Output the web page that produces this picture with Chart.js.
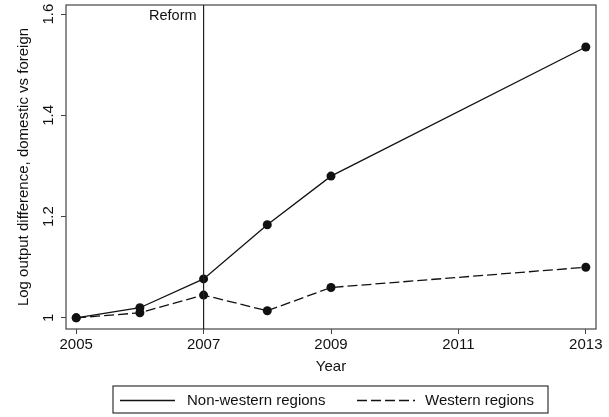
<!DOCTYPE html>
<html>
<head>
<meta charset="utf-8">
<script src="https://cdn.jsdelivr.net/npm/chart.js@4.4.1/dist/chart.umd.min.js"></script>
<style>
  html, body { margin: 0; padding: 0; background: #fff; }
  #wrap { width: 609px; height: 417px; }
</style>
</head>
<body>
<div id="wrap"><canvas id="chart" width="609" height="417"></canvas></div>
<script>
'use strict'

const years = [2005, 2006, 2007, 2008, 2009, 2013];
const nonWestern = [1.0, 1.02, 1.077, 1.184, 1.28, 1.535];
const western = [1.0, 1.01, 1.045, 1.014, 1.06, 1.10];
const xTicks = [2005, 2007, 2009, 2011, 2013];
const yTicks = [1, 1.2, 1.4, 1.6];
const reformYear = 2007;

const font = "'Liberation Sans', Arial, sans-serif";
const ink = '#111';

const toPoints = (vals) => years.map((y, i) => ({x: y, y: vals[i]}));

// extra drawing: frame, reform line, rotated y labels, legend box
const stataBits = {
    id: 'stataBits',
    afterDatasetsDraw(chart) {
        const ctx = chart.ctx;
        const a = chart.chartArea;
        const xs = chart.scales.x, ys = chart.scales.y;
        ctx.save();
        // plot frame
        ctx.strokeStyle = '#444';
        ctx.lineWidth = 1.2;
        ctx.strokeRect(a.left, a.top, a.right - a.left, a.bottom - a.top);
        // reform line
        const rx = xs.getPixelForValue(reformYear);
        ctx.strokeStyle = '#222';
        ctx.beginPath();
        ctx.moveTo(rx, a.top);
        ctx.lineTo(rx, a.bottom);
        ctx.stroke();
        ctx.fillStyle = ink;
        ctx.font = '14.5px ' + font;
        ctx.textAlign = 'right';
        ctx.textBaseline = 'middle';
        ctx.fillText('Reform', rx - 7, a.top + 11);
        // y tick labels, rotated
        ctx.font = '15px ' + font;
        ctx.textAlign = 'center';
        yTicks.forEach(v => {
            const py = ys.getPixelForValue(v);
            ctx.save();
            ctx.translate(49, py);
            ctx.rotate(-Math.PI / 2);
            ctx.fillText(String(v), 0, 0);
            ctx.restore();
        });
        // legend
        const lx = 113, ly = 386, lw = 435, lh = 27;
        ctx.strokeStyle = '#333';
        ctx.lineWidth = 1.2;
        ctx.strokeRect(lx, ly, lw, lh);
        ctx.font = '15px ' + font;
        ctx.textAlign = 'left';
        const cy = ly + lh / 2 + 1;
        const items = [
            {x0: 120, x1: 175, tx: 187, dash: []},
            {x0: 357, x1: 415, tx: 425, dash: [10, 4]}
        ];
        chart.data.datasets.forEach((ds, i) => {
            const it = items[i];
            ctx.setLineDash(it.dash);
            ctx.lineWidth = 1.3;
            ctx.strokeStyle = ink;
            ctx.beginPath();
            ctx.moveTo(it.x0, cy);
            ctx.lineTo(it.x1, cy);
            ctx.stroke();
            ctx.setLineDash([]);
            ctx.fillText(ds.label, it.tx, cy);
        });
        ctx.restore();
    }
};

const config = {
    type: 'line',
    data: {
        datasets: [
            {
                label: 'Non-western regions',
                data: toPoints(nonWestern),
                borderColor: ink,
                backgroundColor: ink,
                borderWidth: 1.3,
                pointRadius: 4.5,
                pointBorderWidth: 0,
                fill: false
            },
            {
                label: 'Western regions',
                data: toPoints(western),
                borderColor: ink,
                backgroundColor: ink,
                borderWidth: 1.3,
                borderDash: [10, 4],
                pointRadius: 4.5,
                pointBorderWidth: 0,
                fill: false
            }
        ]
    },
    options: {
        responsive: false,
        animation: false,
        layout: { padding: { top: 5, right: 13, left: 15, bottom: 41 } },
        plugins: {
            legend: { display: false },
            tooltip: { enabled: false }
        },
        scales: {
            x: {
                type: 'linear',
                min: 2004.84,
                max: 2013.16,
                afterBuildTicks: s => { s.ticks = xTicks.map(v => ({value: v})); },
                afterFit: s => { s.height = 47; },
                grid: { drawOnChartArea: false, drawTicks: true, tickLength: 5, color: '#444' },
                border: { display: false },
                ticks: {
                    color: ink,
                    font: { family: font, size: 15 },
                    padding: 2,
                    maxRotation: 0,
                    callback: v => String(v)
                },
                title: {
                    display: true,
                    text: 'Year',
                    color: ink,
                    font: { family: font, size: 15 },
                    padding: { top: 0, bottom: 0 }
                }
            },
            y: {
                type: 'linear',
                min: 0.978,
                max: 1.618,
                afterBuildTicks: s => { s.ticks = yTicks.map(v => ({value: v})); },
                afterFit: s => { s.width = 51; },
                grid: { drawOnChartArea: false, drawTicks: true, tickLength: 5, color: '#444' },
                border: { display: false },
                ticks: { display: false },
                title: {
                    display: true,
                    text: 'Log output difference, domestic vs foreign',
                    color: ink,
                    font: { family: font, size: 15 },
                    padding: { top: 0, bottom: 0 }
                }
            }
        }
    },
    plugins: [stataBits]
};

document.addEventListener('DOMContentLoaded', function() {
    new Chart(document.getElementById('chart').getContext('2d'), config);
});
</script>
</body>
</html>
